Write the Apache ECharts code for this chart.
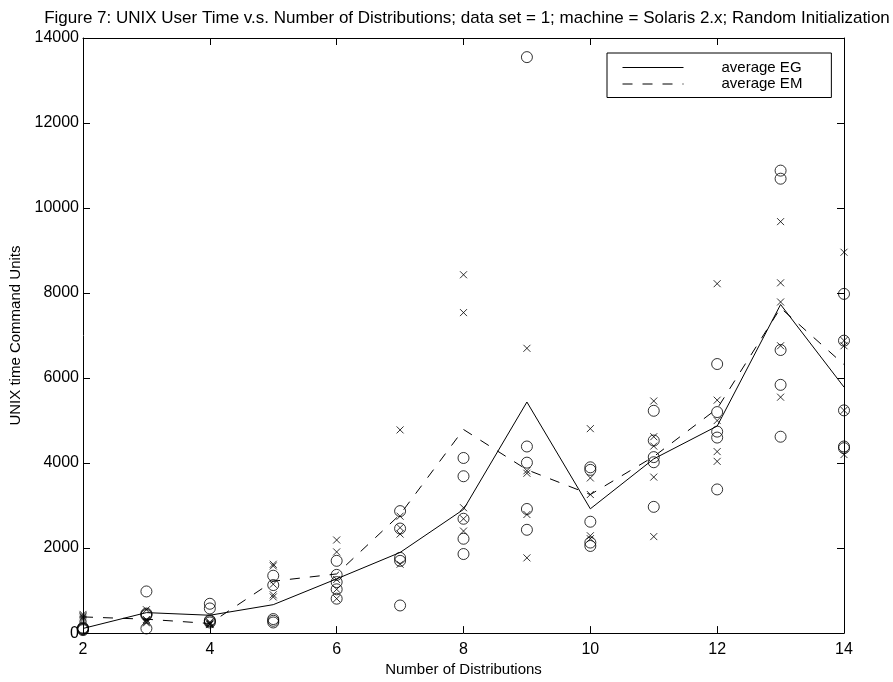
<!DOCTYPE html>
<html>
<head>
<meta charset="utf-8">
<script src="https://cdn.jsdelivr.net/npm/echarts@6/dist/echarts.min.js"></script>
<style>
  html, body { margin: 0; padding: 0; background: #fff; }
  #chart { width: 893px; height: 682px; }
</style>
</head>
<body>
<div id="chart"></div>
<script>
// Number of distributions (x positions)
const xs = [2, 3, 4, 5, 6, 7, 8, 9, 10, 11, 12, 13, 14];

// Individual EG runs (circles), five per distribution count
const egRuns = [
  [130, 110, 100, 90, 70],
  [980, 460, 440, 420, 110],
  [690, 580, 300, 280, 250],
  [1350, 1130, 330, 290, 250],
  [1700, 1370, 1200, 1030, 810],
  [2870, 2460, 1770, 1700, 650],
  [4120, 3690, 2690, 2220, 1860],
  [13550, 4390, 4010, 2920, 2430],
  [3900, 3840, 2620, 2130, 2050],
  [5230, 4530, 4140, 4020, 2970],
  [6330, 5200, 4740, 4600, 3380],
  [10880, 10690, 6660, 5840, 4620],
  [7980, 6880, 5240, 4390, 4350]
];

// Individual EM runs (crosses)
const emRuns = [
  [440, 410, 380, 350, 320],
  [550, 320, 290, 260, 240],
  [260, 240, 220, 210, 200],
  [1620, 1580, 1150, 900, 850],
  [2190, 1910, 1260, 1030, 810],
  [4780, 2750, 2480, 2330, 1620],
  [8430, 7540, 2950, 2690, 2400],
  [6700, 3820, 3760, 2790, 1770],
  [4810, 3650, 3260, 2290, 2220],
  [5460, 4620, 4400, 3670, 2270],
  [8220, 5480, 5000, 4270, 4040],
  [9680, 8240, 7790, 6760, 5550],
  [8960, 6880, 6760, 5240, 4200]
];

// Average curves
const avgEG = [109, 482, 420, 669, 1276, 1897, 2909, 5436, 2924, 4099, 4870, 7730, 5787];
const avgEM = [381, 327, 226, 1221, 1392, 2790, 4790, 3843, 3259, 4153, 5280, 7650, 6316];

// Axis ticks
const xTicks = { min: 2, max: 14, interval: 2 };
const yTicks = { min: 0, max: 14000, interval: 2000 };

const FONT = 'Liberation Sans, Arial, Helvetica, sans-serif';

const pairs = (runs) => xs.flatMap((x, i) => runs[i].map(v => [x, v]));
const linePairs = (vals) => xs.map((x, i) => [x, vals[i]]);

const boxAxisCommon = {
  axisLine: { show: true, onZero: false, lineStyle: { color: '#000', width: 1 } },
  axisTick: { show: true, inside: true, length: 7, lineStyle: { color: '#000', width: 1 } },
  splitLine: { show: false }
};

const chart = echarts.init(document.getElementById('chart'), null, { renderer: 'canvas' });

chart.setOption({
  backgroundColor: '#fff',
  animation: false,
  title: {
    text: 'Figure 7: UNIX User Time v.s. Number of Distributions; data set = 1; machine = Solaris 2.x; Random Initialization',
    left: 462,
    top: 5,
    textAlign: 'center',
    textStyle: { fontFamily: FONT, fontSize: 17, fontWeight: 'normal', color: '#000' }
  },
  legend: {
    data: ['average EG', 'average EM'],
    orient: 'vertical',
    left: 607,
    top: 53,
    padding: [7, 29, 6, 15],
    itemWidth: 61,
    itemHeight: 14,
    itemGap: 1.5,
    borderColor: '#000',
    borderWidth: 1,
    backgroundColor: '#fff',
    itemStyle: { opacity: 0 },
    lineStyle: { width: 1, color: '#000' },
    textStyle: { fontFamily: FONT, fontSize: 15, color: '#000', padding: [0, 0, 0, 33] }
  },
  grid: { left: 83, right: 49, top: 38, bottom: 44, containLabel: false },
  xAxis: [
    Object.assign({
      type: 'value',
      position: 'bottom',
      min: xTicks.min, max: xTicks.max, interval: xTicks.interval,
      name: 'Number of Distributions',
      nameLocation: 'middle',
      nameGap: 27,
      nameTextStyle: { fontFamily: FONT, fontSize: 15, color: '#000' },
      axisLabel: { fontFamily: FONT, fontSize: 16, color: '#000', margin: 8 }
    }, boxAxisCommon),
    Object.assign({
      type: 'value',
      position: 'top',
      min: xTicks.min, max: xTicks.max, interval: xTicks.interval,
      axisLabel: { show: false }
    }, boxAxisCommon)
  ],
  yAxis: [
    Object.assign({
      type: 'value',
      position: 'left',
      min: yTicks.min, max: yTicks.max, interval: yTicks.interval,
      name: 'UNIX time Command Units',
      nameLocation: 'middle',
      nameGap: 56,
      nameTextStyle: { fontFamily: FONT, fontSize: 15, color: '#000' },
      axisLabel: {
        fontFamily: FONT, fontSize: 16, color: '#000', margin: 4,
        formatter: (v) => String(v)
      }
    }, boxAxisCommon),
    Object.assign({
      type: 'value',
      position: 'right',
      min: yTicks.min, max: yTicks.max, interval: yTicks.interval,
      axisLabel: { show: false }
    }, boxAxisCommon)
  ],
  series: [
    {
      name: 'average EG',
      type: 'line',
      data: linePairs(avgEG),
      symbol: 'none',
      lineStyle: { color: '#000', width: 1, type: 'solid' },
      itemStyle: { color: '#000' },
      z: 3
    },
    {
      name: 'average EM',
      type: 'line',
      data: linePairs(avgEM),
      symbol: 'none',
      lineStyle: { color: '#000', width: 1, type: [10, 10] },
      itemStyle: { color: '#000' },
      z: 3
    },
    {
      name: 'EG runs',
      type: 'scatter',
      data: pairs(egRuns),
      symbol: 'circle',
      symbolSize: 11,
      itemStyle: { color: 'rgba(0,0,0,0)', borderColor: '#000', borderWidth: 1 },
      z: 4
    },
    {
      name: 'EM runs',
      type: 'scatter',
      data: pairs(emRuns),
      symbol: 'path://M0,0L10,10M10,0L0,10',
      symbolSize: 7,
      itemStyle: { color: 'rgba(0,0,0,0)', borderColor: '#000', borderWidth: 1 },
      z: 4
    }
  ]
});
</script>
</body>
</html>
